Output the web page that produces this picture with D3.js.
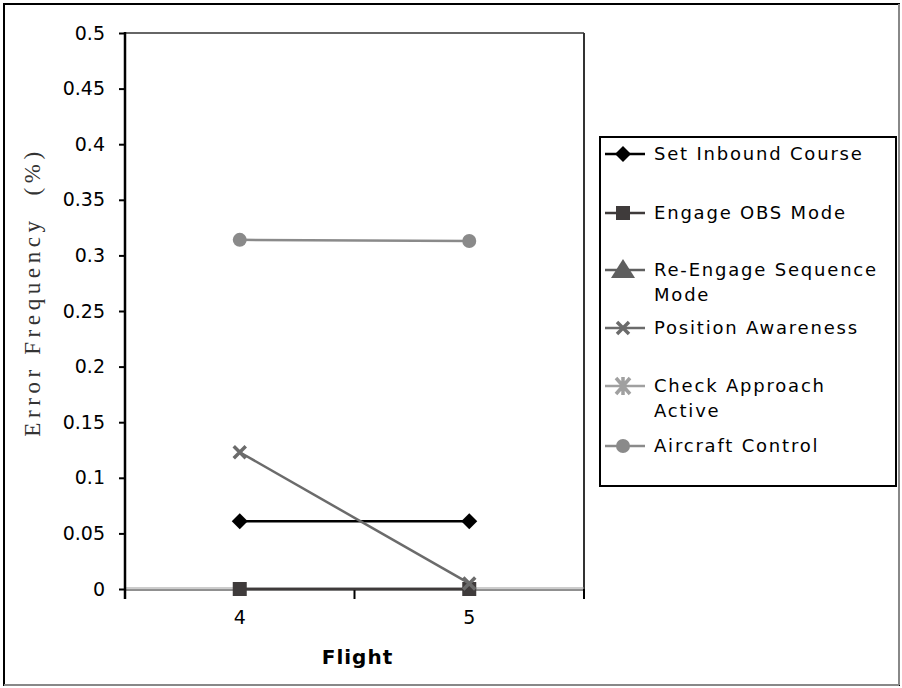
<!DOCTYPE html>
<html>
<head>
<meta charset="utf-8">
<script src="https://cdn.jsdelivr.net/npm/d3@7"></script>
<style>
  html, body { margin: 0; padding: 0; background: #fff; }
  svg { display: block; }
</style>
</head>
<body>
<svg id="chart" width="902" height="688"></svg>
<script>
// Flights on the x axis
const flights = ["4", "5"];

// Error frequency per task, one value per flight (null = no value recorded)
const setInboundCourse = [0.061, 0.061];
const engageObsMode = [0, 0];
const reEngageSequenceMode = [null, null];
const positionAwareness = [0.123, 0.005];
const checkApproachActive = [null, null];
const aircraftControl = [0.314, 0.313];

const yTicks = [0, 0.05, 0.1, 0.15, 0.2, 0.25, 0.3, 0.35, 0.4, 0.45, 0.5];

const series = [
  { name: "Set Inbound Course", lines: ["Set Inbound Course"], values: setInboundCourse, color: "#000000", marker: "diamond" },
  { name: "Engage OBS Mode", lines: ["Engage OBS Mode"], values: engageObsMode, color: "#3f3b3b", marker: "square" },
  { name: "Re-Engage Sequence Mode", lines: ["Re-Engage Sequence", "Mode"], values: reEngageSequenceMode, color: "#5f5f5f", marker: "triangle" },
  { name: "Position Awareness", lines: ["Position Awareness"], values: positionAwareness, color: "#6b6b6b", marker: "x" },
  { name: "Check Approach Active", lines: ["Check Approach", "Active"], values: checkApproachActive, color: "#a0a0a0", marker: "star" },
  { name: "Aircraft Control", lines: ["Aircraft Control"], values: aircraftControl, color: "#8a8a8a", marker: "circle" }
];

const svg = d3.select("#chart");
const W = 902, H = 688;

// outer frame
svg.append("rect").attr("x", 4).attr("y", 4).attr("width", W - 7).attr("height", H - 7)
  .attr("fill", "#fff").attr("stroke", "#000").attr("stroke-width", 2);
svg.append("line").attr("x1", 4).attr("x2", W - 3).attr("y1", H - 3).attr("y2", H - 3)
  .attr("stroke", "#888").attr("stroke-width", 2);
svg.append("line").attr("x1", W - 3).attr("x2", W - 3).attr("y1", 4).attr("y2", H - 3)
  .attr("stroke", "#888").attr("stroke-width", 2);

const plot = { left: 125, right: 584, top: 33, bottom: 589 };

const x = d3.scaleBand().domain(flights).range([plot.left, plot.right]).padding(0);
const y = d3.scaleLinear().domain([0, 0.5]).range([plot.bottom, plot.top]);

const font = "'DejaVu Sans', Verdana, sans-serif";

// plot area frame: grey top, dark right
svg.append("line").attr("x1", plot.left).attr("x2", plot.right).attr("y1", y(0.5)).attr("y2", y(0.5))
  .attr("stroke", "#666").attr("stroke-width", 2);
svg.append("line").attr("x1", plot.right).attr("x2", plot.right).attr("y1", y(0.5)).attr("y2", plot.bottom)
  .attr("stroke", "#333").attr("stroke-width", 2);

// zero baseline (double rule)
svg.append("line").attr("x1", plot.left).attr("x2", plot.right).attr("y1", plot.bottom - 1).attr("y2", plot.bottom - 1)
  .attr("stroke", "#999").attr("stroke-width", 1);
svg.append("line").attr("x1", plot.left).attr("x2", plot.right).attr("y1", plot.bottom + 1).attr("y2", plot.bottom + 1)
  .attr("stroke", "#222").attr("stroke-width", 1);

// y axis
const yAxis = svg.append("g").attr("transform", `translate(${plot.left},0)`)
  .call(d3.axisLeft(y).tickValues(yTicks).tickSize(6).tickPadding(14).tickFormat(d => String(d)));
yAxis.select(".domain").remove();
yAxis.selectAll(".tick line").attr("stroke", "#000").attr("stroke-width", 2);
yAxis.selectAll(".tick text").attr("font-family", font).attr("font-size", 19).attr("fill", "#000");
svg.append("line").attr("x1", plot.left).attr("x2", plot.left).attr("y1", y(0.5) - 1).attr("y2", plot.bottom + 10)
  .attr("stroke", "#000").attr("stroke-width", 2.5);

// x axis: category labels with boundary ticks
const xAxis = svg.append("g").attr("transform", `translate(0,${plot.bottom})`)
  .call(d3.axisBottom(x).tickSize(0).tickPadding(22));
xAxis.select(".domain").remove();
xAxis.selectAll(".tick text").attr("font-family", font).attr("font-size", 19).attr("fill", "#000");
const bounds = [plot.left, x(flights[1]), plot.right];
svg.selectAll(".xb").data(bounds.slice(1)).enter().append("line")
  .attr("x1", d => d).attr("x2", d => d).attr("y1", plot.bottom).attr("y2", plot.bottom + 10)
  .attr("stroke", "#000").attr("stroke-width", 2);

// axis titles
svg.append("text").attr("x", plot.left + (plot.right - plot.left) / 2 + 3).attr("y", 664)
  .attr("text-anchor", "middle").attr("font-family", font).attr("font-weight", "bold")
  .attr("font-size", 20).attr("letter-spacing", 1).text("Flight");
svg.append("text").attr("transform", "translate(40,292) rotate(-90)")
  .attr("text-anchor", "middle").attr("font-family", "'Liberation Serif', 'DejaVu Serif', serif")
  .attr("font-size", 23).attr("letter-spacing", 4.6).attr("fill", "#333")
  .attr("xml:space", "preserve")
  .text("Error Frequency  (%)");

// marker shapes
function marker(g, type, color, cx, cy) {
  const s = g.append("g").attr("transform", `translate(${cx},${cy})`);
  if (type === "diamond") {
    s.append("path").attr("d", "M0,-8 L8,0 L0,8 L-8,0 Z").attr("fill", color);
  } else if (type === "square") {
    s.append("rect").attr("x", -7).attr("y", -7).attr("width", 14).attr("height", 14).attr("fill", color);
  } else if (type === "triangle") {
    s.append("path").attr("d", "M0,-11 L12,8 L-12,8 Z").attr("fill", color);
  } else if (type === "circle") {
    s.append("circle").attr("r", 7).attr("fill", color);
  } else if (type === "x") {
    s.append("path").attr("d", "M-6,-6 L6,6 M6,-6 L-6,6").attr("stroke", color).attr("stroke-width", 3.5);
  } else if (type === "star") {
    s.append("path").attr("d", "M-7,-8 L7,8 M7,-8 L-7,8 M0,-9 L0,9").attr("stroke", color).attr("stroke-width", 3.5);
  }
}

// series, drawn with the zero-valued ones underneath
const drawOrder = [2, 4, 1, 0, 3, 5];
const line = d3.line().defined(d => d.v !== null).x(d => x(d.f) + x.bandwidth() / 2).y(d => y(d.v));
drawOrder.forEach(i => {
  const s = series[i];
  const pts = flights.map((f, j) => ({ f, v: s.values[j] }));
  const g = svg.append("g");
  g.append("path").datum(pts).attr("d", line).attr("fill", "none")
    .attr("stroke", s.color).attr("stroke-width", 2.5);
  pts.filter(p => p.v !== null).forEach(p => marker(g, s.marker, s.color, x(p.f) + x.bandwidth() / 2, y(p.v)));
});

// legend
const lg = svg.append("g");
lg.append("rect").attr("x", 600).attr("y", 137).attr("width", 296).attr("height", 349)
  .attr("fill", "#fff").attr("stroke", "#000").attr("stroke-width", 2);
const rowY = [154, 213, 270, 328, 386, 446];
series.forEach((s, i) => {
  const yy = rowY[i];
  lg.append("line").attr("x1", 605).attr("x2", 645).attr("y1", yy).attr("y2", yy)
    .attr("stroke", s.color).attr("stroke-width", 2.5);
  marker(lg, s.marker, s.color, 623, yy);
  const t = lg.append("text").attr("x", 654).attr("y", yy + 6)
    .attr("font-family", font).attr("font-size", 18).attr("letter-spacing", 1.8).attr("fill", "#000");
  s.lines.forEach((ln, k) => t.append("tspan").attr("x", 654).attr("dy", k === 0 ? 0 : 25).text(ln));
});
</script>
</body>
</html>
